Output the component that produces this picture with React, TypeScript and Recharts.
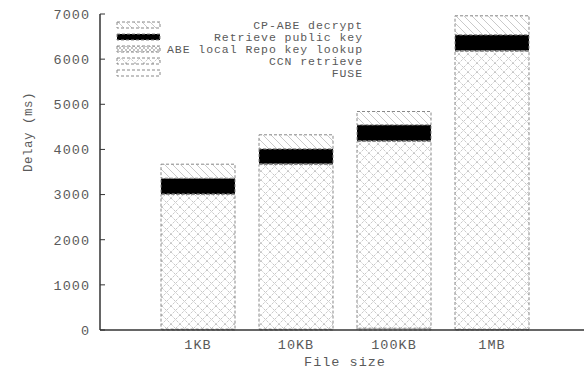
import { Bar, BarChart, XAxis, YAxis } from "recharts";

const sizes = ["1KB", "10KB", "100KB", "1MB"];
const fuse = [20, 20, 40, 20];
const ccnRetrieve = [2980, 3645, 4135, 6155];
const repoLookup = [15, 15, 15, 15];
const publicKey = [348, 333, 355, 350];
const decrypt = [310, 311, 295, 420];
const yTicks = [0, 1000, 2000, 3000, 4000, 5000, 6000, 7000];

const data = sizes.map((s, i) => ({
  size: s,
  fuse: fuse[i],
  ccn: ccnRetrieve[i],
  repo: repoLookup[i],
  key: publicKey[i],
  decrypt: decrypt[i],
}));

const legendItems = [
  { label: "CP-ABE decrypt", fill: "url(#hatchBack)" },
  { label: "Retrieve public key", fill: "#000" },
  { label: "ABE local Repo key lookup", fill: "url(#crossFine)" },
  { label: "CCN retrieve", fill: "url(#cross)" },
  { label: "FUSE", fill: "#fff" },
];

const mono = "'Liberation Mono', 'DejaVu Sans Mono', monospace";
const edge = { stroke: "#888", strokeWidth: 1, strokeDasharray: "3 2" };
const textGray = "#5a5a5a";

export default function App() {
  return (
    <div style={{ position: "absolute", left: 0, top: 0, width: 584, height: 373, overflow: "hidden", background: "#fff" }}>
      <BarChart
        width={590}
        height={373}
        data={data}
        margin={{ top: 14, right: 0, left: 0, bottom: 0 }}
        style={{ fontFamily: mono }}
      >
        <XAxis
          dataKey="size"
          height={43}
          padding={{ left: 49, right: 49 }}
          tickLine={false}
          tickMargin={3}
          axisLine={{ stroke: "#333", strokeWidth: 1.5 }}
          tick={{ fill: textGray, fontSize: 13.5, letterSpacing: 1 }}
          label={{ value: "File size", position: "insideBottom", offset: 7, fill: textGray, fontSize: 13.5, letterSpacing: 1 }}
        />
        <XAxis xAxisId="top" dataKey="size" orientation="top" height={0} tick={false} tickLine={false} axisLine={{ stroke: "#333", strokeWidth: 1.5 }} />
        <YAxis
          width={100}
          domain={[0, 7000]}
          ticks={yTicks}
          interval={0}
          tickSize={-5}
          tickMargin={15}
          axisLine={{ stroke: "#333", strokeWidth: 1.5 }}
          tickLine={{ stroke: "#333" }}
          tick={{ fill: textGray, fontSize: 13.5, letterSpacing: 1 }}
          label={{ value: "Delay (ms)", angle: -90, position: "insideLeft", offset: 28, fill: textGray, fontSize: 12.5, letterSpacing: 0.5 }}
        />
        <YAxis yAxisId="right" orientation="right" width={0} domain={[0, 7000]} ticks={yTicks} tickSize={-5} tick={false} axisLine={{ stroke: "#333" }} tickLine={{ stroke: "#333" }} />
        <Bar dataKey="fuse" stackId="a" barSize={74} fill="#fff" {...edge} isAnimationActive={false} />
        <Bar dataKey="ccn" stackId="a" barSize={74} fill="url(#cross)" {...edge} isAnimationActive={false} />
        <Bar dataKey="repo" stackId="a" barSize={74} fill="url(#crossFine)" {...edge} isAnimationActive={false} />
        <Bar dataKey="key" stackId="a" barSize={74} fill="#000" {...edge} isAnimationActive={false} />
        <Bar dataKey="decrypt" stackId="a" barSize={74} fill="url(#hatchBack)" {...edge} isAnimationActive={false} />
      </BarChart>
      {/* patterns + legend drawn over the chart */}
      <svg width={584} height={373} style={{ position: "absolute", left: 0, top: 0, pointerEvents: "none" }}>
        <defs>
          <pattern id="cross" patternUnits="userSpaceOnUse" width={9} height={9}>
            <rect width={9} height={9} fill="#fff" />
            <path d="M0,0 L9,9 M9,0 L0,9" stroke="#aaa" strokeWidth={0.8} strokeDasharray="1.2 1" />
          </pattern>
          <pattern id="crossFine" patternUnits="userSpaceOnUse" width={4} height={4}>
            <rect width={4} height={4} fill="#fff" />
            <path d="M0,0 L4,4 M4,0 L0,4" stroke="#aaa" strokeWidth={0.7} />
          </pattern>
          <pattern id="hatchBack" patternUnits="userSpaceOnUse" width={8} height={8}>
            <rect width={8} height={8} fill="#fff" />
            <path d="M0,0 L8,8 M-2,6 L2,10 M6,-2 L10,2" stroke="#bbb" strokeWidth={0.8} />
          </pattern>
        </defs>
        {legendItems.map((it, i) => {
          const y = 25 + i * 12;
          return (
            <g key={it.label}>
              <rect x={117} y={y - 3} width={43} height={6} fill={it.fill} {...edge} />
              <text x={363} y={y} dy="0.35em" textAnchor="end" fontFamily={mono} fontSize={11.5} letterSpacing={0.94} fill={textGray}>
                {it.label}
              </text>
            </g>
          );
        })}
      </svg>
    </div>
  );
}
